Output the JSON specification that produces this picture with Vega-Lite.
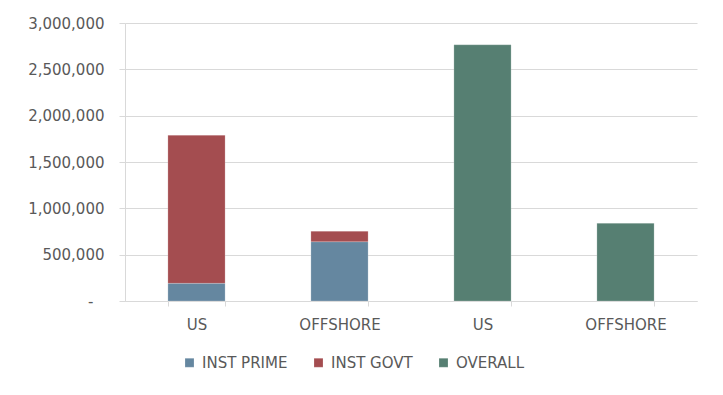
{
  "$schema": "https://vega.github.io/schema/vega-lite/v6.json",
  "width": 572,
  "height": 278,
  "autosize": {"type": "none"},
  "padding": {"left": 125, "top": 23, "right": 26, "bottom": 94},
  "background": "white",
  "data": {
    "values": [
      {"bar": "US-1", "series": "INST PRIME", "value": 191000},
      {"bar": "US-1", "series": "INST GOVT", "value": 1598000},
      {"bar": "OFFSHORE-1", "series": "INST PRIME", "value": 640000},
      {"bar": "OFFSHORE-1", "series": "INST GOVT", "value": 113000},
      {"bar": "US-2", "series": "OVERALL", "value": 2765000},
      {"bar": "OFFSHORE-2", "series": "OVERALL", "value": 839000}
    ]
  },
  "mark": {"type": "bar"},
  "encoding": {
    "x": {
      "field": "bar",
      "type": "nominal",
      "sort": ["US-1", "OFFSHORE-1", "US-2", "OFFSHORE-2"],
      "scale": {"paddingInner": 0.6, "paddingOuter": 0.3},
      "axis": {
        "title": null,
        "labelAngle": 0,
        "labelExpr": "split(datum.label, '-')[0]",
        "domainColor": "#D9D9D9",
        "tickColor": "#D9D9D9",
        "tickBand": "extent",
        "tickSize": 5,
        "labelPadding": 11,
        "labelFont": "DejaVu Sans",
        "labelFontSize": 15,
        "labelColor": "#595959"
      }
    },
    "y": {
      "field": "value",
      "type": "quantitative",
      "aggregate": "sum",
      "stack": "zero",
      "scale": {"domain": [0, 3000000], "nice": false},
      "axis": {
        "title": null,
        "values": [0, 500000, 1000000, 1500000, 2000000, 2500000, 3000000],
        "labelExpr": "datum.value == 0 ? '-' : format(datum.value, ',')",
        "labelPadding": {"condition": {"test": "datum.value == 0", "value": 26}, "value": 15},
        "gridColor": "#D9D9D9",
        "domainColor": "#D9D9D9",
        "tickColor": "#D9D9D9",
        "tickSize": 6,
        "labelFont": "DejaVu Sans",
        "labelFontSize": 15,
        "labelColor": "#595959"
      }
    },
    "color": {
      "field": "series",
      "type": "nominal",
      "scale": {
        "domain": ["INST PRIME", "INST GOVT", "OVERALL"],
        "range": ["#6587A0", "#A44D50", "#567F72"]
      },
      "legend": {
        "title": null,
        "orient": "none",
        "legendX": 57,
        "legendY": 332,
        "direction": "horizontal",
        "symbolType": "square",
        "symbolSize": 81,
        "symbolStrokeWidth": 0,
        "labelFont": "DejaVu Sans",
        "labelFontSize": 15,
        "labelColor": "#595959",
        "labelOffset": 5,
        "columnPadding": 23
      }
    },
    "order": {"field": "series", "sort": "descending"}
  },
  "config": {
    "view": {"stroke": null},
    "bar": {"stroke": "white", "strokeWidth": 0.5, "strokeOpacity": 0.4}
  }
}
